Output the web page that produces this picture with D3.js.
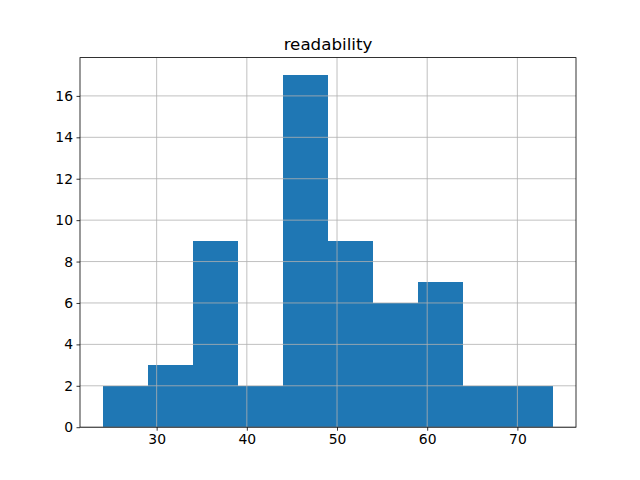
<!DOCTYPE html>
<html><head><meta charset="utf-8">
<script src="https://cdn.jsdelivr.net/npm/d3@7"></script>
<style>body{margin:0;background:#fff}svg{display:block}</style>
</head><body>
<script>
const binEdges = [24, 29, 34, 39, 44, 49, 54, 59, 64, 69, 74];
const counts = [2, 3, 9, 2, 17, 9, 6, 7, 2, 2];
const xTicks = [30, 40, 50, 60, 70];
const yTicks = [0, 2, 4, 6, 8, 10, 12, 14, 16];
const title = "readability";

const W = 640, H = 480;
const m = {left: 80, right: 576, top: 57.6, bottom: 427.2};
const svg = d3.select("body").append("svg").attr("width", W).attr("height", H);
const xmin = binEdges[0], xmax = binEdges[binEdges.length - 1];
const pad = (xmax - xmin) * 0.05;
const x = d3.scaleLinear().domain([xmin - pad, xmax + pad]).range([m.left, m.right]);
const ymax = d3.max(counts) * 1.05;
const y = d3.scaleLinear().domain([0, ymax]).range([m.bottom, m.top]);

const bars = counts.map((c, i) => ({x0: binEdges[i], x1: binEdges[i + 1], c}));
svg.append("g").attr("shape-rendering", "crispEdges").selectAll("rect").data(bars).join("rect")
  .attr("x", d => x(d.x0)).attr("width", d => x(d.x1) - x(d.x0))
  .attr("y", d => y(d.c)).attr("height", d => y(0) - y(d.c))
  .attr("fill", "#1f77b4");

// grid over bars
const g = svg.append("g").attr("stroke", "#b0b0b0").attr("stroke-width", 0.8);
xTicks.forEach(t => g.append("line").attr("x1", x(t)).attr("x2", x(t)).attr("y1", m.top).attr("y2", m.bottom));
yTicks.forEach(t => g.append("line").attr("y1", y(t)).attr("y2", y(t)).attr("x1", m.left).attr("x2", m.right));

const font = "DejaVu Sans, sans-serif";
const xa = svg.append("g").attr("transform", `translate(0,${m.bottom})`)
  .call(d3.axisBottom(x).tickValues(xTicks).tickSize(3.5).tickPadding(3.5).tickFormat(d3.format("d")));
const ya = svg.append("g").attr("transform", `translate(${m.left},0)`)
  .call(d3.axisLeft(y).tickValues(yTicks).tickSize(3.5).tickPadding(3.5).tickFormat(d3.format("d")));
[xa, ya].forEach(a => {
  a.select(".domain").remove();
  a.selectAll(".tick line").attr("stroke", "#000").attr("stroke-width", 0.8);
  a.selectAll("text").attr("font-family", font).attr("font-size", "13.9px").attr("fill", "#000");
});
svg.append("rect").attr("x", m.left).attr("y", m.top).attr("width", m.right - m.left).attr("height", m.bottom - m.top)
  .attr("fill", "none").attr("stroke", "#000").attr("stroke-width", 0.8);
svg.append("text").attr("x", (m.left + m.right) / 2).attr("y", m.top - 8)
  .attr("text-anchor", "middle").attr("font-family", font).attr("font-size", "16.7px").text(title);
</script>
</body></html>
